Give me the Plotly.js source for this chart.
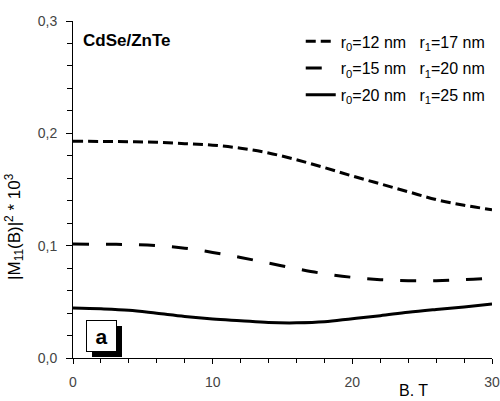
<!DOCTYPE html>
<html>
<head>
<meta charset="utf-8">
<script src="https://cdn.plot.ly/plotly-3.0.1.min.js"></script>
<style>html,body{margin:0;padding:0;background:#fff}#chart{width:500px;height:401px}</style>
</head>
<body>
<div id="chart"></div>
<script>
// Magnetic field B, T
const B = [0, 2, 4, 6, 8, 10, 12, 14, 16, 18, 20, 22, 24, 26, 28, 30];
// |M11(B)|^2 * 10^3
const m_r12_17 = [0.193, 0.1928, 0.1925, 0.192, 0.1908, 0.1895, 0.1868, 0.1825, 0.1765, 0.1695, 0.162, 0.155, 0.148, 0.141, 0.136, 0.132];
const m_r15_20 = [0.1014, 0.1013, 0.101, 0.1, 0.0978, 0.094, 0.0895, 0.0845, 0.0795, 0.075, 0.0718, 0.0697, 0.0688, 0.0688, 0.0697, 0.0712];
const m_r20_25 = [0.0445, 0.0438, 0.0425, 0.0398, 0.037, 0.0348, 0.0332, 0.0316, 0.0313, 0.0322, 0.035, 0.0377, 0.0407, 0.0432, 0.0455, 0.048];
const seriesNames = [
  "r<sub>0</sub>=12\u00a0nm\u00a0\u00a0\u00a0r<sub>1</sub>=17\u00a0nm",
  "r<sub>0</sub>=15\u00a0nm\u00a0\u00a0\u00a0r<sub>1</sub>=20\u00a0nm",
  "r<sub>0</sub>=20\u00a0nm\u00a0\u00a0\u00a0r<sub>1</sub>=25\u00a0nm"
];
const xTicks = [0, 10, 20, 30];
const yTicks = [0, 0.1, 0.2, 0.3];

const mk = (y, name, dash, g) => ({
  x: B, y: y, name: name, type: 'scatter', mode: 'lines', legendgroup: g,
  line: {color: '#000', width: 3, dash: dash, shape: 'spline'}
});
const traces = [
  mk(m_r12_17, seriesNames[0], '10px,5px', 'g1'),
  mk(m_r15_20, seriesNames[1], '16px,17px', 'g2'),
  mk(m_r20_25, seriesNames[2], 'solid', 'g3')
];

const tickFont = {family: 'Liberation Sans, Arial, sans-serif', size: 14, color: '#444'};
const layout = {
  width: 500, height: 401,
  margin: {l: 73, r: 8, t: 21, b: 43},
  paper_bgcolor: '#fff', plot_bgcolor: '#fff',
  separators: ',.',
  showlegend: true,
  legend: {
    x: 0.997, xanchor: 'right', y: 0.99, yanchor: 'top',
    bgcolor: 'rgba(0,0,0,0)', borderwidth: 0,
    font: {family: 'Liberation Sans, Arial, sans-serif', size: 16, color: '#000'},
    tracegroupgap: 3
  },
  xaxis: {
    range: [0, 30], tickvals: xTicks, ticktext: xTicks.map(String),
    ticks: 'outside', ticklen: 5, tickwidth: 1, tickcolor: '#000',
    minor: {dtick: 2, tick0: 0, ticks: 'outside', ticklen: 4, tickcolor: '#000'},
    showline: true, linecolor: '#000', linewidth: 1,
    showgrid: false, zeroline: false,
    tickfont: tickFont, ticklabelstandoff: 6
  },
  yaxis: {
    range: [0, 0.3], tickvals: yTicks, tickformat: '.1f',
    ticks: 'outside', ticklen: 6, tickwidth: 1, tickcolor: '#000',
    minor: {dtick: 0.02, tick0: 0, ticks: 'outside', ticklen: 5, tickcolor: '#000'},
    showline: true, linecolor: '#000', linewidth: 1,
    showgrid: false, zeroline: false,
    tickfont: tickFont, ticklabelstandoff: 6
  },
  xaxis2: {
    overlaying: 'x', side: 'top', anchor: 'y', range: [0, 30], tickvals: xTicks,
    ticks: 'inside', ticklen: 6, tickcolor: '#000',
    minor: {dtick: 2, tick0: 0, ticks: 'inside', ticklen: 4, tickcolor: '#000'},
    showticklabels: false, showline: true, linecolor: '#000', linewidth: 1,
    showgrid: false, zeroline: false
  },
  yaxis2: {
    overlaying: 'y', side: 'right', anchor: 'x', range: [0, 0.3], tickvals: yTicks,
    ticks: 'inside', ticklen: 6, tickcolor: '#000',
    minor: {dtick: 0.02, tick0: 0, ticks: 'inside', ticklen: 5, tickcolor: '#000'},
    showticklabels: false, showline: true, linecolor: '#888', linewidth: 1.5,
    showgrid: false, zeroline: false
  },
  annotations: [
    {xref: 'paper', yref: 'paper', x: 0.019, y: 0.942, xanchor: 'left', yanchor: 'middle',
     text: '<b>CdSe/ZnTe</b>', showarrow: false,
     font: {family: 'Liberation Sans, Arial, sans-serif', size: 17, color: '#000'}},
    {xref: 'paper', yref: 'paper', x: -0.14, y: 0.39, xanchor: 'center', yanchor: 'middle',
     textangle: -90, showarrow: false,
     text: '|M<sub>11</sub>(B)|<sup>2</sup> * 10<sup>3</sup>',
     font: {family: 'Liberation Sans, Arial, sans-serif', size: 17, color: '#000'}},
    {xref: 'paper', yref: 'paper', x: 0.812, y: -0.096, xanchor: 'center', yanchor: 'middle',
     text: 'B. T', showarrow: false,
     font: {family: 'Liberation Sans, Arial, sans-serif', size: 16, color: '#000'}},
    {xref: 'paper', yref: 'paper', x: 0.0817, y: 0.0498, xanchor: 'center', yanchor: 'middle',
     text: ' ', showarrow: false, width: 30, height: 31, bgcolor: '#000', borderpad: 0, borderwidth: 0},
    {xref: 'paper', yref: 'paper', x: 0.0686, y: 0.0646, xanchor: 'center', yanchor: 'middle',
     text: '<b>a</b>', showarrow: false, width: 29, height: 30, bgcolor: '#fff',
     bordercolor: '#000', borderwidth: 1, borderpad: 0,
     font: {family: 'Liberation Sans, Arial, sans-serif', size: 21, color: '#000'}}
  ]
};

Plotly.newPlot('chart', traces, layout, {displayModeBar: false, staticPlot: true});
</script>
</body>
</html>
